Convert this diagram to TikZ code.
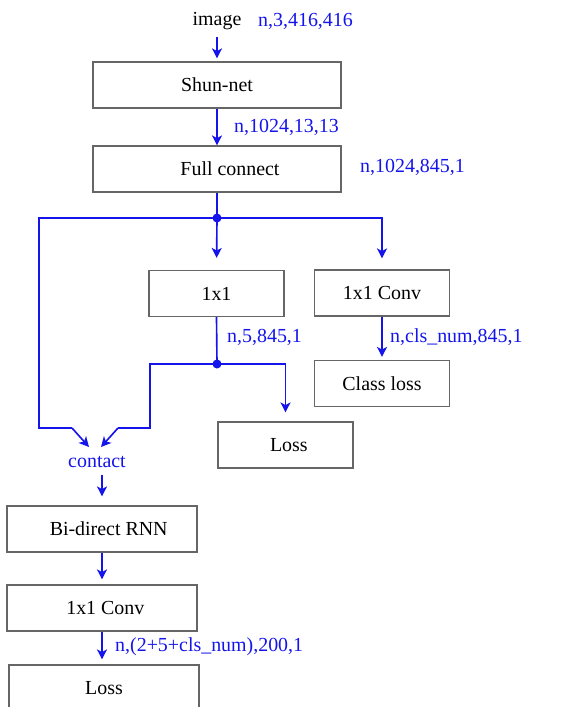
\documentclass[tikz,border=0pt]{standalone}
\usepackage{fontspec}
\setmainfont{Liberation Serif}
\usetikzlibrary{arrows.meta}
\definecolor{lineblue}{RGB}{20,20,235}
\begin{document}
\begin{tikzpicture}[x=0.03cm,y=-0.03cm,
        every node/.style={font=\fontsize{17}{19}\selectfont},
        box/.style={draw=black!60, line width=1pt, minimum height=1.38cm, inner sep=0pt},
        wide/.style={box, minimum width=7.44cm},
        small/.style={box, minimum width=4.05cm},
        low/.style={box, minimum width=5.7cm},
        lbl/.style={text=lineblue, anchor=west, inner sep=0pt},
        arr/.style={draw=lineblue, line width=1.4pt, -{Stealth[length=0.3cm, width=0.3cm, inset=0.08cm]}},
        wire/.style={draw=lineblue, line width=1.4pt},
        dot/.style={circle, fill=lineblue, inner sep=0pt, minimum size=0.27cm}]

        \useasboundingbox (0,0) rectangle (560,707);

        % main column
        \node[inner sep=0pt] (image) at (217,21) {image};
        \node[wide] (shun) at (217,85) {Shun-net};
        \node[wide] (full) at (217,169) {\hspace{0.78cm}Full connect};

        % branches
        \node[small] (one) at (216.5,293.5) {1x1};
        \node[small] (conv) at (382,293) {1x1 Conv};
        \node[small] (cls) at (382,383.5) {Class loss};
        \node[small] (loss) at (285.5,445) {\hspace{0.2cm}Loss};

        % lower column
        \node[text=lineblue, inner sep=0pt] (contact) at (97,462) {contact};
        \node[low] (rnn) at (102,529) {\hspace{0.4cm}Bi-direct RNN};
        \node[low] (conv2) at (102,608) {\hspace{0.2cm}1x1 Conv};
        \node[low] (loss2) at (104,688) {Loss};

        % sizes
        \node[lbl] (s0) at (258,21) {n,3,416,416};
        \node[lbl] (s1) at (234,127) {n,1024,13,13};
        \node[lbl] (s2) at (360,167) {n,1024,845,1};
        \node[lbl] (s3) at (227,337) {n,5,845,1};
        \node[lbl] (s4) at (390,337) {n,cls\_num,845,1};
        \node[lbl] (s5) at (115,647) {n,(2+5+cls\_num),200,1};

        % junctions
        \coordinate (j1) at (217,218);
        \coordinate (j2) at (217,364);
        \coordinate (lt) at (39,428);
        \coordinate (lm) at (150,428);
        \coordinate (ca) at (89,447);
        \coordinate (cb) at (101,447);

        \draw[arr, shorten <=0.2cm, shorten >=0.09cm] (image.south) -- (shun.north);
        \draw[arr] (shun.south) -- (full.north);
        \draw[wire] (full.south) -- (j1);
        \draw[arr, shorten >=0.36cm] (j1) -- (one.north);
        \draw[arr, shorten >=0.33cm] (j1) -| (conv.north);
        \draw[wire] (j1) -| (lt) -- ++(33,0) coordinate (lt2);
        \draw[arr] (lt2) -- (ca);
        \draw[wire] (one.south) -- (j2);
        \draw[arr, shorten >=0.27cm] (j2) -| (loss.north);
        \draw[wire] (j2) -| (lm) -- ++(-32,0) coordinate (lm2);
        \draw[arr] (lm2) -- (cb);
        \draw[arr, shorten >=0.09cm] (conv.south) -- (cls.north);
        \node[dot] at (j1) {};
        \node[dot] at (j2) {};

        \draw[arr, shorten <=0.2cm, shorten >=0.27cm] (contact.south -| rnn.north) -- (rnn.north);
        \draw[arr, shorten >=0.15cm] (rnn.south) -- (conv2.north);
        \draw[arr, shorten >=0.15cm] (conv2.south) -- (conv2.south |- loss2.north);
\end{tikzpicture}
\end{document}
